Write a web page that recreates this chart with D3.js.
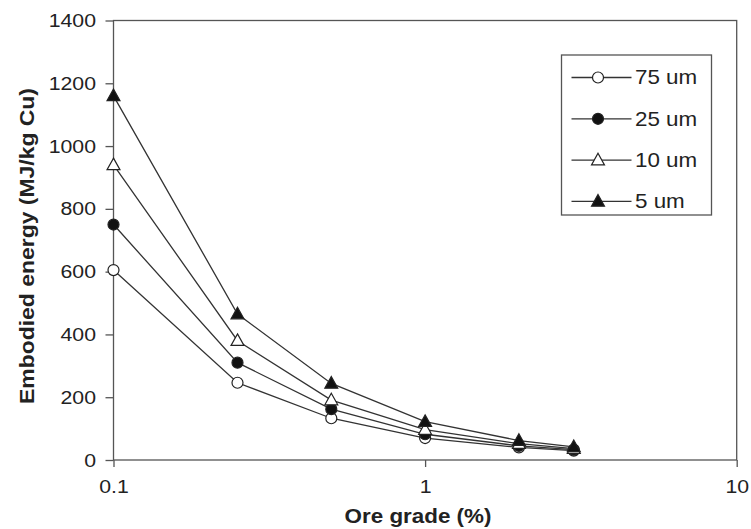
<!DOCTYPE html>
<html><head><meta charset="utf-8">
<script src="https://cdn.jsdelivr.net/npm/d3@7"></script>
<style>body{margin:0;background:#fff}svg{display:block}text{font-family:"Liberation Sans",Arial,sans-serif;fill:#222}</style>
</head><body><svg id="c" width="751" height="529"></svg>
<script>
const grades = [0.1, 0.25, 0.5, 1, 2, 3];
const seriesNames = ["75 um", "25 um", "10 um", "5 um"];
const s75 = [605, 246, 133, 70, 40, 30];
const s25 = [750, 310, 162, 82, 45, 33];
const s10 = [940, 380, 191, 97, 52, 36];
const s5 = [1160, 465, 244, 122, 62, 42];
const xTicks = [0.1, 1, 10];
const yTicks = [0, 200, 400, 600, 800, 1000, 1200, 1400];
const symbols = ["circleOpen", "circleFilled", "triOpen", "triFilled"];

const series = [s75, s25, s10, s5];
const svg = d3.select("#c");
const L = 113.5, R = 736.7, T = 20.5, B = 460;
const x = d3.scaleLog().domain([0.1, 10]).range([L, R]);
const y = d3.scaleLinear().domain([0, 1400]).range([B, T]);
const ink = "#333";
const SX = 1.12; // horizontal text stretch seen in the reference

function stretch(sel, x0) {
  sel.attr("transform", `translate(${x0 * (1 - SX)},0) scale(${SX},1)`);
}

// frame
svg.append("rect").attr("x", L).attr("y", T).attr("width", R - L).attr("height", B - T)
  .attr("fill", "none").attr("stroke", "#555").attr("stroke-width", 1.3);

const yAxis = svg.append("g").attr("transform", `translate(${L},0)`)
  .call(d3.axisLeft(y).tickValues(yTicks).tickSize(8).tickPadding(9.5).tickFormat(d3.format("d")));
const xAxis = svg.append("g").attr("transform", `translate(0,${B})`)
  .call(d3.axisBottom(x).tickValues(xTicks).tickSize(7).tickPadding(13).tickFormat(d => d === 0.1 ? "0.1" : String(d)));
[yAxis, xAxis].forEach(g => {
  g.select(".domain").remove();
  g.selectAll(".tick line").attr("stroke", "#555").attr("stroke-width", 1.3);
  g.selectAll(".tick text").attr("font-size", 19).attr("fill", "#222")
   .style("font-family", '"Liberation Sans",Arial,sans-serif');
});
yAxis.selectAll(".tick text").each(function () { stretch(d3.select(this), +d3.select(this).attr("x")); });
xAxis.selectAll(".tick text").each(function () { stretch(d3.select(this), 0); });

const xt = svg.append("text").attr("x", 418).attr("y", 523).attr("text-anchor", "middle")
  .attr("font-size", 20).attr("font-weight", "bold").text("Ore grade (%)");
stretch(xt, 418);
svg.append("text").attr("transform", `translate(34,246) rotate(-90)`).attr("text-anchor", "middle")
  .attr("font-size", 21).attr("font-weight", "bold")
  .attr("textLength", 316).attr("lengthAdjust", "spacingAndGlyphs")
  .text("Embodied energy (MJ/kg Cu)");

function drawMarker(g, type, cx, cy) {
  if (type.startsWith("circle")) {
    g.append("circle").attr("cx", cx).attr("cy", cy).attr("r", 5.5)
      .attr("fill", type === "circleFilled" ? "#111" : "#fff").attr("stroke", "#222").attr("stroke-width", 1.2);
  } else {
    const s = 6.8;
    g.append("path").attr("d", `M${cx},${cy - s}L${cx + s * 0.95},${cy + s * 0.7}L${cx - s * 0.95},${cy + s * 0.7}Z`)
      .attr("fill", type === "triFilled" ? "#111" : "#fff").attr("stroke", "#222").attr("stroke-width", 1.2);
  }
}

const line = d3.line().x((d, i) => x(grades[i])).y(d => y(d));
const plot = svg.append("g");
series.forEach((vals) => {
  plot.append("path").attr("d", line(vals)).attr("fill", "none").attr("stroke", ink).attr("stroke-width", 1.3);
});
series.forEach((vals, k) => {
  vals.forEach((v, i) => drawMarker(plot, symbols[k], x(grades[i]), y(v)));
});

// legend
const lg = svg.append("g");
lg.append("rect").attr("x", 561.5).attr("y", 55).attr("width", 150).attr("height", 160)
  .attr("fill", "#fff").attr("stroke", "#555").attr("stroke-width", 1.3);
seriesNames.forEach((n, k) => {
  const yy = 77.5 + k * 41.3;
  lg.append("line").attr("x1", 571.5).attr("x2", 631.5).attr("y1", yy).attr("y2", yy)
    .attr("stroke", ink).attr("stroke-width", 1.3);
  drawMarker(lg, symbols[k], 598, yy);
  const t = lg.append("text").attr("x", 635).attr("y", yy + 7).attr("font-size", 20).text(n);
  stretch(t, 635);
});
</script></body></html>
